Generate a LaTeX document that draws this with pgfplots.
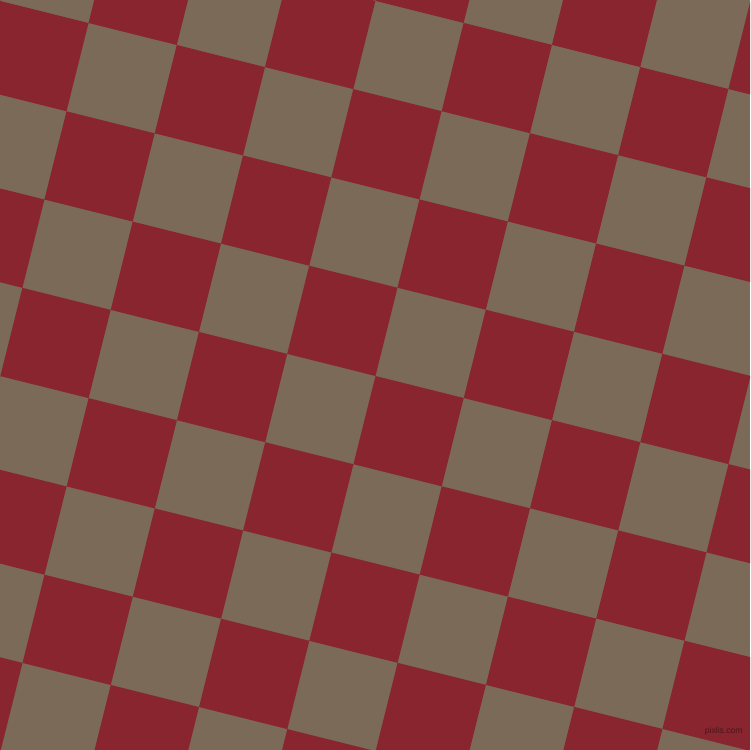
\documentclass[border=0pt]{standalone}
\usepackage{pgfplots}
\pgfplotsset{compat=1.18}
\usepackage{pgfplotstable}
\usepackage{fontspec}
\setsansfont{Liberation Sans}
\definecolor{brick}{RGB}{137,37,47}
\definecolor{taupe}{RGB}{123,106,88}

% corners of the red squares, in pixels (y down), one square per block
\pgfplotstableread{
x y
397.4 -87.4
485.7 -65.4
463.6 22.9
375.4 0.9
nan nan
573.9 -43.3
662.2 -21.3
640.2 67.0
551.9 44.9
nan nan
750.5 0.7
838.7 22.8
816.7 111.1
728.4 89.0
nan nan
-66.0 -109.4
22.3 -87.3
0.2 1.0
-88.0 -21.1
nan nan
110.5 -65.3
198.8 -43.2
176.8 45.0
88.5 23.0
nan nan
287.1 -21.2
375.4 0.9
353.3 89.1
265.0 67.1
nan nan
463.6 22.9
551.9 44.9
529.9 133.2
441.6 111.2
nan nan
640.2 67.0
728.4 89.0
706.4 177.3
618.1 155.2
nan nan
0.2 1.0
88.5 23.0
66.5 111.3
-21.8 89.2
nan nan
176.8 45.0
265.0 67.1
243.0 155.4
154.7 133.3
nan nan
353.3 89.1
441.6 111.2
419.5 199.4
331.3 177.4
nan nan
529.9 133.2
618.1 155.2
596.1 243.5
507.8 221.5
nan nan
706.4 177.3
794.7 199.3
772.6 287.6
684.4 265.6
nan nan
66.5 111.3
154.7 133.3
132.7 221.6
44.4 199.5
nan nan
243.0 155.4
331.3 177.4
309.2 265.7
221.0 243.6
nan nan
419.5 199.4
507.8 221.5
485.8 309.7
397.5 287.7
nan nan
596.1 243.5
684.4 265.6
662.3 353.8
574.0 331.8
nan nan
772.6 287.6
860.9 309.6
838.9 397.9
750.6 375.9
nan nan
-43.9 177.5
44.4 199.5
22.4 287.8
-65.9 265.8
nan nan
132.7 221.6
221.0 243.6
198.9 331.9
110.7 309.9
nan nan
309.2 265.7
397.5 287.7
375.5 376.0
287.2 353.9
nan nan
485.8 309.7
574.0 331.8
552.0 420.1
463.7 398.0
nan nan
662.3 353.8
750.6 375.9
728.5 464.1
640.3 442.1
nan nan
22.4 287.8
110.7 309.9
88.6 398.1
0.3 376.1
nan nan
198.9 331.9
287.2 353.9
265.2 442.2
176.9 420.2
nan nan
375.5 376.0
463.7 398.0
441.7 486.3
353.4 464.2
nan nan
552.0 420.1
640.3 442.1
618.2 530.4
530.0 508.3
nan nan
728.5 464.1
816.8 486.2
794.8 574.4
706.5 552.4
nan nan
-87.9 354.0
0.3 376.1
-21.7 464.4
-110.0 442.3
nan nan
88.6 398.1
176.9 420.2
154.8 508.4
66.6 486.4
nan nan
265.2 442.2
353.4 464.2
331.4 552.5
243.1 530.5
nan nan
441.7 486.3
530.0 508.3
507.9 596.6
419.7 574.6
nan nan
618.2 530.4
706.5 552.4
684.5 640.7
596.2 618.6
nan nan
-21.7 464.4
66.6 486.4
44.5 574.7
-43.7 552.6
nan nan
154.8 508.4
243.1 530.5
221.1 618.7
132.8 596.7
nan nan
331.4 552.5
419.7 574.6
397.6 662.8
309.3 640.8
nan nan
507.9 596.6
596.2 618.6
574.2 706.9
485.9 684.9
nan nan
684.5 640.7
772.7 662.7
750.7 751.0
662.4 728.9
nan nan
44.5 574.7
132.8 596.7
110.8 685.0
22.5 662.9
nan nan
221.1 618.7
309.3 640.8
287.3 729.1
199.0 707.0
nan nan
397.6 662.8
485.9 684.9
463.8 773.1
375.6 751.1
nan nan
574.2 706.9
662.4 728.9
640.4 817.2
552.1 795.2
nan nan
-65.8 640.9
22.5 662.9
0.5 751.2
-87.8 729.2
nan nan
110.8 685.0
199.0 707.0
177.0 795.3
88.7 773.2
nan nan
287.3 729.1
375.6 751.1
353.5 839.4
265.3 817.3
}\redcells

\begin{document}
\begin{tikzpicture}
\begin{axis}[
  width=15cm, height=15cm,
  scale only axis,
  hide axis,
  xmin=0, xmax=750,
  ymin=0, ymax=750,
  y dir=reverse,
  unbounded coords=jump,
]
  % board background
  \addplot[fill=taupe, draw=none] coordinates {(0,0) (750,0) (750,750) (0,750)};
  \addplot[fill=brick, draw=none] table {\redcells};
  \node[anchor=east, inner sep=0pt, text=black, opacity=0.45,
        font=\sffamily\fontsize{4.9pt}{5pt}\selectfont] at (axis cs:743,731) {pixlis.com};
\end{axis}
\end{tikzpicture}
\end{document}
